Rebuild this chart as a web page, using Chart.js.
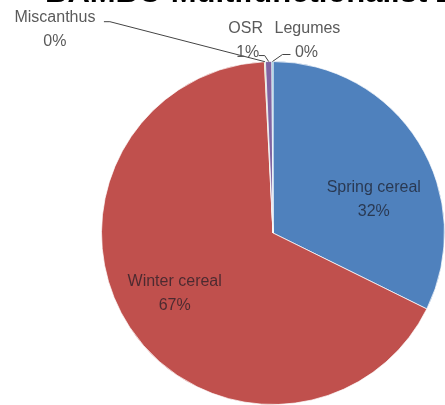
<!DOCTYPE html>
<html>
<head>
<meta charset="utf-8">
<script src="https://cdn.jsdelivr.net/npm/chart.js@4/dist/chart.umd.min.js"></script>
<style>
html, body { margin: 0; padding: 0; background: #fff; overflow: hidden; }
#wrap { position: relative; width: 445px; height: 405px; overflow: hidden; }
#title { position: absolute; left: 45px; top: -26px; font: bold 31px "Liberation Sans", Arial, sans-serif; color: #000; white-space: nowrap; }
canvas { position: absolute; left: 0; top: 0; }
</style>
</head>
<body>
<div id="wrap">
  <canvas id="cropChart" width="445" height="405"></canvas>
  <div id="title">BAMBO Multifunctionalist 2</div>
</div>
<script>
// chart data
const categories = ['Spring cereal', 'Winter cereal', 'Miscanthus', 'OSR', 'Legumes'];
const shares = [32.3, 66.9, 0.1, 0.6, 0.1];
const sliceColors = ['#4F81BD', '#C0504D', '#9BBB59', '#8064A2', '#4BACC6'];

// Data labels: big slices inside, tiny ones outside with leader lines
const pieLabels = {
    id: 'pieLabels',
    afterDatasetsDraw(chart, args, opts) {
        const ctx = chart.ctx;
        const meta = chart.getDatasetMeta(0);
        const total = shares.reduce((a, b) => a + b, 0);
        ctx.save();
        ctx.font = opts.font;
        ctx.textAlign = 'center';
        ctx.textBaseline = 'middle';
        meta.data.forEach((arc, i) => {
            const name = categories[i];
            const pct = Math.round(shares[i] / total * 100) + '%';
            const p = arc.getProps(['x', 'y', 'startAngle', 'endAngle', 'outerRadius'], true);
            const mid = (p.startAngle + p.endAngle) / 2;
            const out = opts.outside[name];
            if (!out) {
                const nudge = opts.nudge[name] || [0, 0];
                const r = p.outerRadius * opts.insideRatio;
                const lx = p.x + Math.cos(mid) * r + nudge[0];
                const ly = p.y + Math.sin(mid) * r + nudge[1];
                ctx.fillStyle = opts.insideColor;
                ctx.fillText(name, lx, ly - opts.lineGap / 2);
                ctx.fillText(pct, lx, ly + opts.lineGap / 2);
                return;
            }
            const ax = p.x + Math.cos(mid) * p.outerRadius;
            const ay = p.y + Math.sin(mid) * p.outerRadius;
            // leader line
            ctx.strokeStyle = opts.leaderColor;
            ctx.lineWidth = 1;
            ctx.beginPath();
            out.leader.forEach((pt, k) => {
                if (k === 0) ctx.moveTo(ax + pt[0], ay + pt[1]);
                else ctx.lineTo(ax + pt[0], ay + pt[1]);
            });
            ctx.lineTo(ax, ay);
            ctx.stroke();
            ctx.fillStyle = opts.outsideColor;
            const lx = ax + out.offset[0], ly = ay + out.offset[1];
            ctx.fillText(name, lx, ly - opts.lineGap / 2);
            ctx.fillText(pct, lx + (out.pctShift || 0), ly + opts.lineGap / 2);
        });
        ctx.restore();
    }
};

const ctx = document.getElementById('cropChart').getContext('2d');
new Chart(ctx, {
    type: 'pie',
    data: {
        labels: categories,
        datasets: [{
            data: shares,
            backgroundColor: sliceColors,
            borderColor: 'rgba(255,255,255,0.7)',
            borderWidth: 1
        }]
    },
    options: {
        responsive: false,
        animation: false,
        layout: { padding: { left: 101, top: 61, right: 0, bottom: 0 } },
        plugins: {
            legend: { display: false },
            tooltip: { enabled: false },
            pieLabels: {
                font: '16px "Liberation Sans", Arial, sans-serif',
                insideRatio: 0.63,
                lineGap: 24,
                insideColor: 'rgba(25,25,35,0.7)',
                outsideColor: '#5a5a5a',
                leaderColor: '#444',
                nudge: { 'Spring cereal': [9, 24], 'Winter cereal': [-8, 1] },
                outside: {
                    'Miscanthus': { offset: [-210, -32], leader: [[-161, -40], [-155, -40]] },
                    'OSR': { offset: [-23, -21], pctShift: 2, leader: [[-10, -6], [-4, -6]] },
                    'Legumes': { offset: [35, -21], pctShift: -1, leader: [[18, -7], [10, -7]] }
                }
            }
        }
    },
    plugins: [pieLabels]
});
</script>
</body>
</html>
